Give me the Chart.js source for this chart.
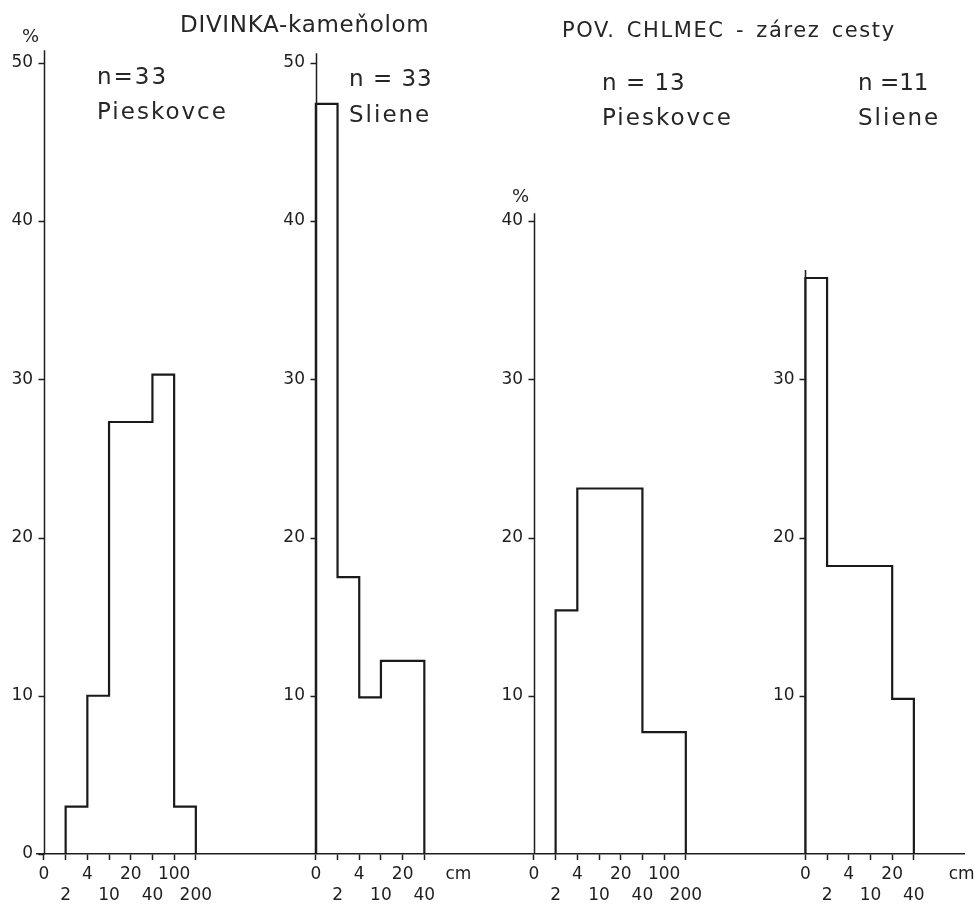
<!DOCTYPE html>
<html>
<head>
<meta charset="utf-8">
<script src="https://cdn.jsdelivr.net/npm/chart.js@4.4.0/dist/chart.umd.min.js"></script>
<style>
html,body{margin:0;padding:0;background:#fff;}
#wrap{position:relative;width:974px;height:909px;overflow:hidden;}
#c{position:absolute;left:0;top:0;}
.t{position:absolute;font-family:"DejaVu Sans",sans-serif;color:#262626;white-space:nowrap;line-height:1;}
</style>
</head>
<body>
<div id="wrap">
<canvas id="c" width="974" height="909"></canvas>
<div class="t" style="left:180px;top:13px;font-size:23px;letter-spacing:0.7px;">DIVINKA-kameňolom</div>
<div class="t" style="left:562px;top:20px;font-size:21px;letter-spacing:1.6px;word-spacing:3px;">POV. CHLMEC - zárez cesty</div>
<div class="t" style="left:22px;top:27px;font-size:18px;">%</div>
<div class="t" style="left:512px;top:187px;font-size:18px;">%</div>
<div class="t" style="left:97px;top:65px;font-size:23px;letter-spacing:2px;">n=33</div>
<div class="t" style="left:97px;top:100px;font-size:23px;letter-spacing:2px;">Pieskovce</div>
<div class="t" style="left:349px;top:67px;font-size:23px;letter-spacing:1px;">n = 33</div>
<div class="t" style="left:349px;top:103px;font-size:23px;letter-spacing:2px;">Sliene</div>
<div class="t" style="left:602px;top:71px;font-size:23px;letter-spacing:1px;">n = 13</div>
<div class="t" style="left:602px;top:106px;font-size:23px;letter-spacing:2px;">Pieskovce</div>
<div class="t" style="left:858px;top:71px;font-size:23px;letter-spacing:0px;">n =11</div>
<div class="t" style="left:858px;top:106px;font-size:23px;letter-spacing:2px;">Sliene</div>
</div>
<script>
// ---- data ----
const edgesLong = ['0', '2', '4', '10', '20', '40', '100', '200'];   // cm class limits
const edgesShort = ['0', '2', '4', '10', '20', '40'];
const divinkaPieskovce = [0, 3.0, 10.0, 27.3, 27.3, 30.3, 3.0];   // % per class, n = 33
const divinkaSliene = [47.4, 17.5, 9.9, 12.2, 12.2];              // % per class, n = 33
const chlmecPieskovce = [0, 15.4, 23.1, 23.1, 23.1, 7.7, 7.7];    // % per class, n = 13
const chlmecSliene = [36.4, 18.2, 18.2, 18.2, 9.8];               // % per class, n = 11
const yTicksDivinkaP = [0, 10, 20, 30, 40, 50];
const yTicksDivinkaS = [10, 20, 30, 40, 50];
const yTicksChlmecP = [10, 20, 30, 40];
const yTicksChlmecS = [10, 20, 30];
const unitLabel = 'cm';

// ---- layout (positions in class-width units along the shared x scale) ----
const panelValues = [divinkaPieskovce, divinkaSliene, chlmecPieskovce, chlmecSliene];
const panelEdges = [edgesLong, edgesShort, edgesLong, edgesShort];
const panelYTicks = [yTicksDivinkaP, yTicksDivinkaS, yTicksChlmecP, yTicksChlmecS];
const panelOffset = [0, 12.53, 22.58, 35.09];
const panelAxisTop = [50.8, 50.6, 40.5, 36.9];
const unitPos = [12.53 + 6.57, 35.09 + 7.2];
const yLabelGap = 0.5;     // label distance left of each vertical axis (x units)
const yTickLen = 6;        // px

const INK = '#1e1e1e';
const FONT = {family: '"DejaVu Sans", sans-serif', size: 17, lineHeight: 1.22};

// x ticks from the class limits
const xTickVals = [], xTickLabels = [], xTickShow = [];
panelEdges.forEach((edges, p) => {
  edges.forEach((lab, i) => {
    xTickVals.push(panelOffset[p] + i);
    xTickLabels.push(i % 2 === 0 ? [lab] : ['', lab]);
    xTickShow.push(true);
  });
});
unitPos.forEach(v => { xTickVals.push(v); xTickLabels.push([unitLabel]); xTickShow.push(false); });

// histogram outlines built from class values
const datasets = panelValues.map((vals, p) => {
  const off = panelOffset[p];
  const pts = [{x: off, y: 0}];
  vals.forEach((v, i) => pts.push({x: off + i, y: v}));
  pts.push({x: off + vals.length, y: 0});
  return {
    data: pts, yAxisID: 'y' + p, stepped: true, borderColor: '#1a1a1a', borderWidth: 2.2,
    pointRadius: 0, fill: false, tension: 0
  };
});

const scales = {
  x: {
    type: 'linear', min: -0.32, max: 42.4,
    afterBuildTicks: s => { s.ticks = xTickVals.map(v => ({value: v})); },
    afterFit: s => { s.height = 55; s.paddingLeft = 0; s.paddingRight = 0; },
    ticks: {
      autoSkip: false, maxRotation: 0, minRotation: 0, padding: 4, color: INK, font: FONT,
      callback: (v, i) => xTickLabels[i]
    },
    grid: {
      drawOnChartArea: false, drawTicks: true, tickLength: 6, tickWidth: 1.5,
      tickColor: c => (xTickShow[c.index] ? INK : 'rgba(0,0,0,0)')
    },
    border: {display: true, color: INK, width: 1.5}
  }
};
panelYTicks.forEach((tk, p) => {
  scales['y' + p] = {
    type: 'linear', min: 0, max: 51,
    position: {x: panelOffset[p] - yLabelGap},
    afterBuildTicks: s => { s.ticks = tk.map(v => ({value: v})); },
    ticks: {autoSkip: false, padding: 0, color: INK, font: FONT, callback: v => String(v)},
    grid: {display: false, drawOnChartArea: false, drawTicks: false},
    border: {display: false}
  };
});

// vertical axis lines and their tick marks, placed through the scales
const axisLines = {
  id: 'axisLines',
  afterDatasetsDraw(chart) {
    const ctx = chart.ctx, xs = chart.scales.x;
    ctx.save();
    ctx.strokeStyle = INK;
    ctx.lineWidth = 1.5;
    panelOffset.forEach((off, p) => {
      const ys = chart.scales['y' + p];
      const px = Math.round(xs.getPixelForValue(off)) + 0.5;
      ctx.beginPath();
      ctx.moveTo(px, ys.getPixelForValue(0));
      ctx.lineTo(px, ys.getPixelForValue(panelAxisTop[p]));
      ys.ticks.forEach(t => {
        const py = Math.round(ys.getPixelForValue(t.value)) + 0.5;
        ctx.moveTo(px - yTickLen, py);
        ctx.lineTo(px, py);
      });
      ctx.stroke();
    });
    ctx.restore();
  }
};

new Chart(document.getElementById('c'), {
  type: 'line',
  data: {datasets},
  options: {
    responsive: false, animation: false,
    layout: {padding: {left: 37, right: 10, top: 47, bottom: 0}},
    plugins: {legend: {display: false}, tooltip: {enabled: false}, title: {display: false}},
    scales
  },
  plugins: [axisLines]
});
</script>
</body>
</html>
